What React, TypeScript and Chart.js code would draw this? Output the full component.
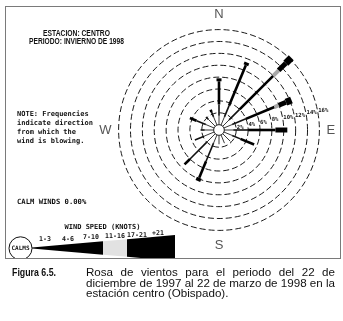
import React, { useEffect, useRef } from 'react';
import { Chart, registerables } from 'chart.js';

Chart.register(...registerables);

// ---- data ----
const directions = ['N', 'NNE', 'NE', 'ENE', 'E', 'ESE', 'SE', 'SSE', 'S', 'SSW', 'SW', 'WSW', 'W', 'WNW', 'NW', 'NNW'];
const speedClasses = ['1-3', '4-6', '7-10', '11-16', '17-21', '+21'];
// frequency (%) of each speed class per direction
const freq1to3 = [1.5, 1.5, 1.5, 1.5, 1.5, 1.5, 1.8, 1.5, 1.5, 1.5, 2.0, 1.8, 1.5, 1.5, 1.6, 1.5];
const freq4to6 = [1.9, 2.0, 2.5, 2.5, 2.5, 1.5, 0, 0, 0, 3.3, 4.0, 1.7, 0.7, 1.7, 0.6, 0.9];
const freq7to10 = [3.9, 7.4, 8.0, 5.2, 4.6, 2.5, 0, 0, 0, 3.0, 1.3, 0, 0, 1.2, 0, 0.4];
const freq11to16 = [0, 0, 1.3, 0.8, 0, 0, 0, 0, 0, 0, 0, 0, 0, 0, 0, 0];
const freq17to21 = [0.5, 0.5, 1.7, 1.3, 2.0, 0, 0, 0, 0, 0.6, 0, 0, 0, 0, 0, 0];
const freqOver21 = [0, 0, 1.3, 1.0, 0, 0, 0, 0, 0, 0, 0, 0, 0, 0, 0, 0];
const ringTicks = [0, 2, 4, 6, 8, 10, 12, 14, 16];
const calmWinds = '0.00%';
const stationTitle = 'ESTACION: CENTRO';
const periodTitle = 'PERIODO: INVIERNO DE 1998';
const noteLines = ['NOTE: Frequencies', 'indicate direction', 'from which the', 'wind is blowing.'];

// ---- styles ----
const classWidths = [1, 1.6, 2.6, 4, 5, 7];
const classColors = ['#3a3a3a', '#111', '#000', '#a8a8a8', '#000', '#000'];
const legendColors = ['#000', '#000', '#000', '#e2e2e2', '#000', '#000'];

const classSeries = [freq1to3, freq4to6, freq7to10, freq11to16, freq17to21, freqOver21];

function cumulative(): number[][] {
  const out: number[][] = [];
  classSeries.forEach((s, k) => {
    out.push(s.map((v, i) => +(v + (k > 0 ? out[k - 1][i] : 0)).toFixed(2)));
  });
  return out;
}

const monoB = (px: number) => `bold ${px}px "DejaVu Sans Mono", "Liberation Mono", monospace`;

const roseDraw = {
  id: 'roseDraw',
  beforeDraw(chart: any) {
    const { ctx, width, height } = chart;
    ctx.save();
    ctx.fillStyle = '#fff';
    ctx.fillRect(0, 0, width, height);
    ctx.restore();
  },
  afterDatasetsDraw(chart: any) {
    const scale = chart.scales.r;
    const ctx = chart.ctx;
    const sets = chart.data.datasets;
    ctx.save();
    ctx.lineCap = 'butt';
    sets.forEach((ds: any, k: number) => {
      ds.data.forEach((v: number, i: number) => {
        const v0 = k > 0 ? sets[k - 1].data[i] : 0;
        if (v <= v0) return;
        const a = scale.getPointPositionForValue(i, v0);
        const b = scale.getPointPositionForValue(i, v);
        ctx.strokeStyle = ds.borderColor;
        ctx.lineWidth = classWidths[k];
        ctx.beginPath();
        ctx.moveTo(a.x, a.y);
        ctx.lineTo(b.x, b.y);
        ctx.stroke();
      });
    });
    // ring labels along a line 12 degrees above east
    ctx.fillStyle = '#111';
    ctx.font = monoB(5.6);
    ctx.textAlign = 'left';
    ctx.textBaseline = 'middle';
    ringTicks.filter((t) => t > 0).forEach((t) => {
      const d = scale.getDistanceFromCenterForValue(t);
      const p = scale.getPointPosition(4, d, (-12 * Math.PI) / 180);
      ctx.fillText(`${t}%`, p.x + 1, p.y + 1);
    });
    ctx.restore();
  },
  afterDraw(chart: any) {
    const ctx = chart.ctx;
    ctx.save();
    // frame
    ctx.strokeStyle = '#7a7a7a';
    ctx.lineWidth = 1;
    ctx.strokeRect(5.5, 6.5, 335, 252);

    ctx.fillStyle = '#111';
    ctx.textBaseline = 'middle';
    ctx.textAlign = 'center';
    ctx.font = 'bold 8.8px "Liberation Sans", Arial, sans-serif';
    ctx.fillText(stationTitle, 76.5, 33.5, 67);
    ctx.fillText(periodTitle, 76.5, 41.8, 95);

    ctx.textAlign = 'left';
    ctx.font = monoB(7);
    const noteY = [114.3, 123.3, 131.8, 140.7];
    noteLines.forEach((l, i) => ctx.fillText(l, 17, noteY[i]));
    ctx.font = monoB(7.2);
    ctx.fillText(`CALM WINDS ${calmWinds}`, 17, 202.3);
    ctx.textAlign = 'center';
    ctx.font = monoB(7);
    ctx.fillText('WIND SPEED (KNOTS)', 102.5, 227.5);

    // legend wedge
    ctx.save();
    ctx.beginPath();
    ctx.rect(6, 7, 334, 251);
    ctx.clip();
    const bounds = [32, 57, 80, 103, 127, 150, 175];
    const x0 = bounds[0];
    const xe = bounds[bounds.length - 1];
    const axisY = 248;
    const half = (x: number) => 0.5 + ((x - x0) / (xe - x0)) * 12.5;
    for (let k = 0; k < speedClasses.length; k++) {
      const a = bounds[k];
      const b = bounds[k + 1];
      ctx.fillStyle = legendColors[k];
      ctx.beginPath();
      ctx.moveTo(a, axisY - half(a));
      ctx.lineTo(b, axisY - half(b));
      ctx.lineTo(b, axisY + half(b));
      ctx.lineTo(a, axisY + half(a));
      ctx.closePath();
      ctx.fill();
    }
    // calms circle
    ctx.strokeStyle = '#111';
    ctx.lineWidth = 1;
    ctx.beginPath();
    ctx.arc(20.5, 248.3, 11.5, 0, Math.PI * 2);
    ctx.stroke();
    ctx.restore();

    ctx.fillStyle = '#111';
    ctx.font = monoB(6);
    ctx.textAlign = 'center';
    ctx.fillText('CALMS', 20.5, 248.5);
    const labelX = [45, 68, 91, 115, 137, 158];
    const labelY = [239.5, 239, 237.5, 236, 235, 233.5];
    ctx.font = monoB(6.6);
    speedClasses.forEach((s, i) => ctx.fillText(s, labelX[i], labelY[i]));
    ctx.restore();
  },
};

export default function App() {
  const ref = useRef<HTMLCanvasElement | null>(null);
  useEffect(() => {
    if (!ref.current) return;
    const cum = cumulative();
    const chart = new Chart(ref.current, {
      type: 'radar',
      data: {
        labels: directions,
        datasets: speedClasses.map((s, k) => ({
          label: s,
          data: cum[k],
          borderColor: classColors[k],
          backgroundColor: classColors[k],
          showLine: false,
          pointRadius: 0,
          fill: false,
        })),
      },
      options: {
        responsive: false,
        animation: false,
        events: [],
        layout: { padding: { left: 95, right: 2, top: 8, bottom: 67 } },
        plugins: { legend: { display: false }, tooltip: { enabled: false } },
        scales: {
          r: {
            min: -0.9,
            max: 16,
            afterBuildTicks: (scale: any) => {
              scale.ticks = ringTicks.map((v) => ({ value: v }));
            },
            ticks: { display: false },
            grid: { circular: true, color: '#1a1a1a', lineWidth: 1 },
            border: { dash: (c: any) => (c.tick && c.tick.value === 0 ? [] : [6, 3]) },
            angleLines: { display: false },
            pointLabels: {
              display: true,
              padding: 7,
              color: '#555',
              font: { family: '"Liberation Sans", Arial, sans-serif', size: 13 },
              callback: (l: string, i: number) => (i % 4 === 0 ? l : ''),
            },
          },
        },
      },
      plugins: [roseDraw],
    } as any);
    return () => chart.destroy();
  }, []);

  const cap: React.CSSProperties = {
    position: 'absolute',
    fontFamily: '"Liberation Sans", Arial, sans-serif',
    fontSize: '11.6px',
    lineHeight: '10.6px',
    color: '#111',
    whiteSpace: 'nowrap',
  };
  const just: React.CSSProperties = { textAlign: 'justify', textAlignLast: 'justify' } as any;
  return (
    <div style={{ position: 'absolute', left: 0, top: 0, width: 343, height: 321, background: '#fff' }}>
      <canvas ref={ref} width={343} height={321} style={{ display: 'block' }} />
      <div
        style={{
          ...cap,
          left: 12,
          top: 267,
          fontWeight: 'bold',
          transform: 'scaleX(0.76)',
          transformOrigin: 'left top',
        }}
      >
        Figura 6.5.
      </div>
      <div style={{ ...cap, left: 86, top: 267, width: 249 }}>
        <div style={just}>Rosa de vientos para el periodo del 22 de</div>
        <div style={just}>diciembre de 1997 al 22 de marzo de 1998 en la</div>
        <div>estación centro (Obispado).</div>
      </div>
    </div>
  );
}
